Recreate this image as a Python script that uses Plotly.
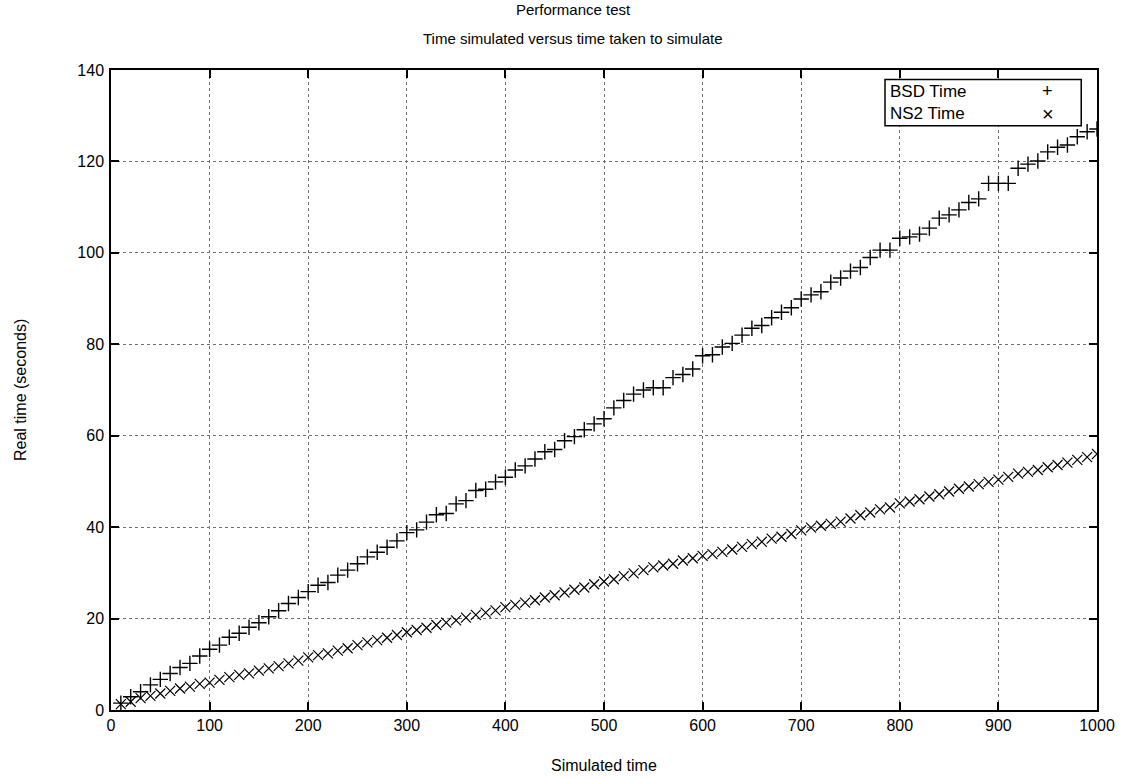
import plotly.graph_objects as go

sim_time = list(range(10, 1001, 10))

bsd_time = [
    1.5, 2.9, 4.0, 5.5, 6.7, 8.0, 9.3, 10.2, 11.8, 13.3,
    14.2, 15.9, 16.8, 18.1, 19.1, 20.4, 21.7, 23.3, 24.6, 25.9,
    27.3, 27.9, 29.5, 30.6, 32.0, 33.5, 34.5, 35.6, 37.0, 38.8,
    39.4, 41.1, 42.7, 43.0, 45.1, 45.8, 48.0, 48.3, 49.9, 50.9,
    52.5, 53.4, 54.9, 56.5, 57.0, 58.9, 59.8, 61.3, 62.6, 63.7,
    66.1, 67.7, 69.1, 70.0, 70.5, 70.5, 72.7, 73.4, 74.6, 77.5,
    77.7, 79.4, 80.2, 82.0, 83.5, 84.1, 85.8, 87.0, 88.0, 89.9,
    90.8, 91.5, 93.6, 94.5, 96.0, 96.8, 99.0, 100.6, 100.6, 103.2,
    103.5, 104.1, 105.4, 107.6, 108.3, 109.4, 111.0, 111.8, 115.2, 115.2,
    115.2, 118.5, 119.4, 120.1, 122.1, 123.1, 123.6, 125.4, 126.5, 127.1,
]

ns2_time = [
    1.3, 1.8, 2.6, 3.1, 3.6, 4.2, 4.7, 5.1, 5.7, 6.0,
    6.6, 7.2, 7.7, 8.0, 8.6, 9.1, 9.6, 10.2, 10.8, 11.5,
    12.0, 12.4, 13.0, 13.5, 14.2, 14.8, 15.3, 15.8, 16.4, 17.0,
    17.5, 18.0, 18.6, 19.1, 19.6, 20.2, 20.8, 21.3, 21.8, 22.5,
    23.0, 23.5, 24.0, 24.6, 25.1, 25.7, 26.3, 26.8, 27.5, 28.1,
    28.6, 29.3, 29.9, 30.6, 31.2, 31.6, 32.0, 32.7, 33.2, 33.7,
    34.1, 34.6, 35.1, 35.7, 36.3, 36.8, 37.5, 37.9, 38.5, 39.3,
    39.9, 40.3, 40.7, 41.2, 41.9, 42.6, 43.2, 43.9, 44.3, 45.2,
    45.6, 46.1, 46.7, 47.2, 47.8, 48.4, 48.9, 49.4, 49.9, 50.4,
    51.0, 51.7, 52.1, 52.5, 53.1, 53.6, 54.1, 54.7, 55.3, 56.0,
]

series_names = ["BSD Time", "NS2 Time"]
x_ticks = list(range(0, 1001, 100))
y_ticks = list(range(0, 141, 20))
title_lines = ["Performance test", "Time simulated versus time taken to simulate"]

FONT = "Liberation Sans, Arial, sans-serif"

fig = go.Figure()
fig.add_trace(go.Scatter(
    x=sim_time, y=bsd_time, mode="markers", name=series_names[0],
    marker=dict(symbol="cross-thin", size=11, line=dict(width=1.4, color="black"), color="black"),
))
fig.add_trace(go.Scatter(
    x=sim_time, y=ns2_time, mode="markers", name=series_names[1],
    marker=dict(symbol="x-thin", size=10, line=dict(width=1.2, color="black"), color="black"),
))

axis_common = dict(
    showline=True, linecolor="black", linewidth=1.5, mirror="allticks",
    ticks="inside", ticklen=8, tickcolor="black", tickwidth=1.5,
    showgrid=True, gridcolor="#707070", gridwidth=1, griddash="dot",
    zeroline=False, tickfont=dict(family=FONT, size=16, color="black"),
)

fig.update_layout(
    width=1126, height=778,
    margin=dict(l=111, r=29, t=70, b=68),
    paper_bgcolor="white", plot_bgcolor="white",
    showlegend=False,
    font=dict(family=FONT, size=16, color="black"),
    xaxis=dict(range=[0, 1000], tickvals=x_ticks, **axis_common),
    yaxis=dict(range=[0, 140], tickvals=y_ticks, ticklabelstandoff=2, **axis_common),
)

# title lines (centred on the page like gnuplot)
for txt, yy in zip(title_lines, [1.094, 1.049]):
    fig.add_annotation(text=txt, xref="paper", yref="paper",
                       x=(573 - 111) / 986, y=yy, showarrow=False,
                       xanchor="center", yanchor="middle",
                       font=dict(family=FONT, size=15, color="black"))

# axis titles
fig.add_annotation(text="Simulated time", xref="paper", yref="paper",
                   x=0.5, y=-0.086, showarrow=False, xanchor="center", yanchor="middle",
                   font=dict(family=FONT, size=16, color="black"))
fig.add_annotation(text="Real time (seconds)", xref="paper", yref="paper",
                   x=-0.0923, y=0.5, showarrow=False, textangle=-90,
                   xanchor="center", yanchor="middle",
                   font=dict(family=FONT, size=16, color="black"))

# gnuplot-style key box
fig.add_shape(type="rect", xref="paper", yref="paper",
              x0=0.785, x1=0.984, y0=0.913, y1=0.985,
              line=dict(color="black", width=1.5), fillcolor="white", layer="above")
key_rows = [(series_names[0], "+", 0.967, 18), (series_names[1], "×", 0.932, 20)]
for name, sym, yy, sz in key_rows:
    fig.add_annotation(text=name, xref="paper", yref="paper", x=0.7885, y=yy,
                       showarrow=False, xanchor="left", yanchor="middle",
                       font=dict(family=FONT, size=17, color="black"))
    fig.add_annotation(text=sym, xref="paper", yref="paper", x=0.950, y=yy,
                       showarrow=False, xanchor="center", yanchor="middle",
                       font=dict(family=FONT, size=sz, color="black"))

fig.write_html("out.html")
